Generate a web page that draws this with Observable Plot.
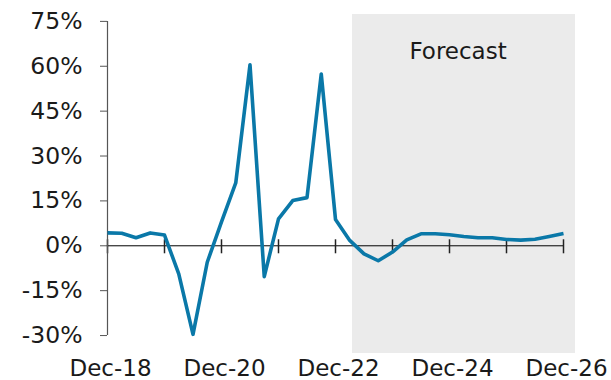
<!DOCTYPE html>
<html>
<head>
<meta charset="utf-8">
<script src="https://cdn.jsdelivr.net/npm/d3@7"></script>
<script src="https://cdn.jsdelivr.net/npm/@observablehq/plot@0.6"></script>
<style>
  html, body { margin: 0; padding: 0; background: #fff; }
</style>
</head>
<body>
<div id="chart"></div>
<script>
// Quarterly periods, Dec-18 .. Dec-26
const quarters = ["Dec-18","Mar-19","Jun-19","Sep-19","Dec-19","Mar-20","Jun-20","Sep-20","Dec-20",
  "Mar-21","Jun-21","Sep-21","Dec-21","Mar-22","Jun-22","Sep-22","Dec-22",
  "Mar-23","Jun-23","Sep-23","Dec-23","Mar-24","Jun-24","Sep-24","Dec-24",
  "Mar-25","Jun-25","Sep-25","Dec-25","Mar-26","Jun-26","Sep-26","Dec-26"];
// Growth (%)
const values = [4.3, 4.2, 2.7, 4.3, 3.6, -9.4, -29.6, -5.5, 8.0,
  21.0, 60.5, -10.3, 9.0, 15.1, 16.1, 57.4, 8.8,
  1.8, -2.7, -5.0, -2.1, 2.0, 4.0, 4.0, 3.7,
  3.1, 2.7, 2.7, 2.1, 1.9, 2.2, 3.1, 4.1];
const yTicks = [-30, -15, 0, 15, 30, 45, 60, 75];
const xLabelIdx = [0, 8, 16, 24, 32];
const xTickIdx = [0, 4, 8, 12, 16, 20, 24, 28, 32];
// forecast shaded period (in quarter index units) and its label
const forecastBand = [{x1: 17.19, x2: 32.84}];
const forecastLabel = [{x: 24.6, y: 65, text: "Forecast"}];

const data = quarters.map((q, i) => ({i, q, v: values[i]}));

const chart = Plot.plot({
  width: 611,
  height: 380,
  marginLeft: 107,
  marginRight: 48,
  marginTop: 14,
  marginBottom: 27,
  style: {fontFamily: "'DejaVu Sans', Verdana, sans-serif", fontSize: "23px", color: "#1a1a1a", background: "#fff"},
  x: {type: "linear", domain: [0, 32]},
  y: {domain: [-36, 77.3]},
  marks: [
    Plot.rect(forecastBand, {x1: "x1", x2: "x2", fill: "#ebebeb"}),
    Plot.axisY({ticks: yTicks, tickSize: 7, tickPadding: 18, stroke: "#555", fill: "#1a1a1a",
      tickFormat: d => `${d}%`, fontSize: 23.5, label: null}),
    Plot.axisX({ticks: xLabelIdx, tickSize: 0, tickPadding: 6, dx: 3, fill: "#1a1a1a",
      tickFormat: d => quarters[d], fontSize: 23, label: null}),
    Plot.ruleY([0], {x1: 0, x2: 32, stroke: "#000", strokeWidth: 1}),
    Plot.ruleX(xTickIdx, {x: d => d, y1: 0, y2: 0, insetTop: -6, insetBottom: -8, stroke: "#222", strokeWidth: 1.5}),
    Plot.ruleX([0], {y1: -30, y2: 75, stroke: "#555", strokeWidth: 1.2}),
    Plot.line(data, {x: "i", y: "v", stroke: "#0a78a8", strokeWidth: 3.6, strokeLinejoin: "round", strokeLinecap: "butt"}),
    Plot.text(forecastLabel, {x: "x", y: "y", text: "text", fontSize: 23, fill: "#1a1a1a"})
  ]
});
document.getElementById("chart").appendChild(chart);
</script>
</body>
</html>
